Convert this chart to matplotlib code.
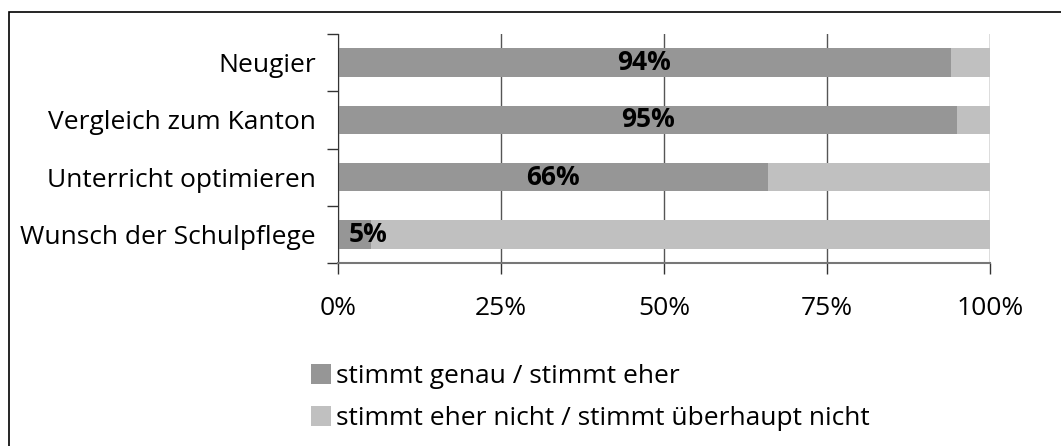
import numpy as np
import matplotlib.pyplot as plt
from matplotlib.patches import Rectangle

plt.rcParams['font.family'] = ['Open Sans', 'DejaVu Sans']

categories = ["Neugier", "Vergleich zum Kanton", "Unterricht optimieren", "Wunsch der Schulpflege"]
agree = [94, 95, 66, 5]
disagree = [6, 5, 34, 95]
series_names = ["stimmt genau / stimmt eher", "stimmt eher nicht / stimmt überhaupt nicht"]
xticks = [0, 25, 50, 75, 100]

W, H = 1061, 446
FS = 19
fig = plt.figure(figsize=(W / 100, H / 100), dpi=100)
ax = fig.add_axes([338 / W, 1 - 263 / H, (990 - 338) / W, (263 - 34) / H])

dark, light = "#969696", "#c0c0c0"
y = np.arange(len(categories))
ax.barh(y, agree, height=0.5, color=dark, label=series_names[0], zorder=2)
ax.barh(y, disagree, left=agree, height=0.5, color=light, label=series_names[1], zorder=2)

for yi, v in zip(y, agree):
    ax.text(max(v / 2, 4.6), yi, f"{v}%", ha="center", va="center",
            fontsize=FS, fontweight="bold", color="black", zorder=3)

ax.set_xlim(0, 100)
ax.set_ylim(len(categories) - 0.5, -0.5)
ax.set_xticks(xticks)
ax.set_xticklabels([f"{t}%" for t in xticks], fontsize=FS)
ax.grid(axis="x", color="#555555", linewidth=1, zorder=0)

# category ticks sit between bars, labels at bar centres
ax.set_yticks(np.arange(-0.5, len(categories), 1.0))
ax.set_yticklabels([])
ax.set_yticks(y, minor=True)
ax.set_yticklabels(categories, minor=True, fontsize=FS)
ax.tick_params(axis="y", which="major", length=8, color="#333333", width=1)
ax.tick_params(axis="y", which="minor", length=0, pad=16)
ax.tick_params(axis="x", length=8, color="#333333", width=1, pad=16)

for s in ["top", "right"]:
    ax.spines[s].set_visible(False)
ax.spines["left"].set_color("#333333")
ax.spines["bottom"].set_color("#777777")
ax.spines["bottom"].set_linewidth(1.5)

leg = fig.legend(loc="upper left", bbox_to_anchor=(311 / W, 1 - 364 / H),
                 frameon=False, fontsize=FS, handlelength=0.76, handleheight=0.76,
                 handletextpad=0.2, labelspacing=0.66, borderaxespad=0, borderpad=0)

fig.patches.append(Rectangle((9 / W, -0.1), 1.2, 1 - 12 / H + 0.1, transform=fig.transFigure,
                             fill=False, edgecolor="black", linewidth=1.2))

fig.savefig("out.png", dpi=100)
